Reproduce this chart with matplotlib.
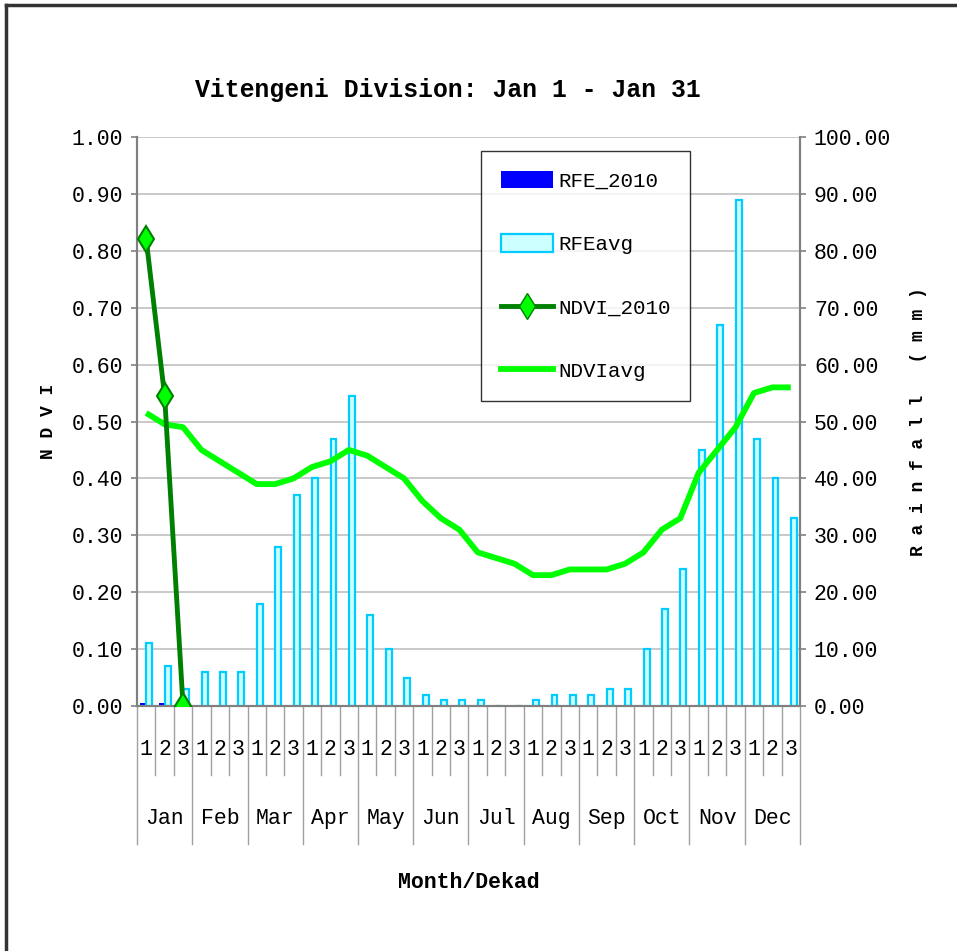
import matplotlib
matplotlib.use("Agg")
import matplotlib.pyplot as plt
from matplotlib.patches import Patch
from matplotlib.lines import Line2D
import numpy as np

plt.rcParams["font.family"] = ["Liberation Mono", "DejaVu Sans Mono"]

months = ["Jan", "Feb", "Mar", "Apr", "May", "Jun",
          "Jul", "Aug", "Sep", "Oct", "Nov", "Dec"]
dekads = ["1", "2", "3"]

# rainfall (mm), one value per dekad
rfe_2010 = [0.5, 0.5, 0.0]
rfe_avg = [11, 7, 3, 6, 6, 6, 18, 28, 37, 40, 47, 54.5,
           16, 10, 5, 2, 1, 1, 1, 0, 0, 1, 2, 2,
           2, 3, 3, 10, 17, 24, 45, 67, 89, 47, 40, 33]

# NDVI
ndvi_2010 = [0.82, 0.545, 0.0]
ndvi_avg = [0.515, 0.495, 0.49, 0.45, 0.43, 0.41, 0.39, 0.39, 0.40, 0.42, 0.43, 0.45,
            0.44, 0.42, 0.40, 0.36, 0.33, 0.31, 0.27, 0.26, 0.25, 0.23, 0.23, 0.24,
            0.24, 0.24, 0.25, 0.27, 0.31, 0.33, 0.41, 0.45, 0.49, 0.55, 0.56, 0.56]

n = len(rfe_avg)
x = np.arange(n) + 0.5

fig = plt.figure(figsize=(9.57, 9.51), dpi=100)
ax = fig.add_axes([137 / 957, 1 - 706 / 951, 663 / 957, 569 / 951])
axr = ax.twinx()
ax.set_zorder(axr.get_zorder() + 1)
ax.patch.set_visible(False)

# bars on the rainfall axis
w = 0.32
axr.bar(x[:len(rfe_2010)] - 0.17, rfe_2010, width=w, color="#0000ff", edgecolor="none", zorder=3)
axr.bar(x + 0.17, rfe_avg, width=w, color="#ccffff", edgecolor="#00ccff", linewidth=1.6, zorder=3)
axr.set_ylim(0, 100)
axr.set_yticks(np.arange(0, 101, 10))
axr.set_yticklabels(["%.2f" % v for v in np.arange(0, 101, 10)])
axr.grid(axis="y", color="#c0c0c0", linewidth=1.2, zorder=0)
axr.set_axisbelow(True)

# lines on the NDVI axis
ax.plot(x, ndvi_avg, color="#00ff00", linewidth=4.2, solid_capstyle="butt", zorder=4)
ax.plot(x[:len(ndvi_2010)], ndvi_2010, color="#008000", linewidth=3.5, marker="d",
        markersize=13, markerfacecolor="#00ff00", markeredgecolor="#008000",
        markeredgewidth=1.5, zorder=5)
ax.set_ylim(0, 1)
ax.set_xlim(0, n)
ax.set_yticks(np.arange(0, 1.01, 0.1))
ax.set_yticklabels(["%.2f" % v for v in np.arange(0, 1.01, 0.1)])
ax.set_xticks([])
axr.set_xticks([])

for a in (ax, axr):
    for s in a.spines.values():
        s.set_color("#808080")
        s.set_linewidth(1.5)
    a.spines["top"].set_visible(False)
    a.tick_params(axis="y", length=4, width=1.2, color="#808080", labelsize=15.5, pad=6)

# category axis: dekads and months
trans = ax.get_xaxis_transform()
for i in range(n + 1):
    bottom = -0.2425 if i % 3 == 0 else -0.121
    ax.plot([i, i], [0, bottom], color="#a0a0a0", linewidth=1, transform=trans, clip_on=False)
for i in range(n):
    ax.text(i + 0.5, -0.077, dekads[i % 3], transform=trans, ha="center", va="center", fontsize=15.5)
for m, name in enumerate(months):
    ax.text(3 * m + 1.5, -0.197, name, transform=trans, ha="center", va="center", fontsize=15.5)

ax.set_ylabel("N D V I", fontsize=13, fontweight="bold")
ax.yaxis.set_label_coords(-0.1207, 0.5)
axr.set_ylabel("R a i n f a l l   ( m m )", fontsize=13, fontweight="bold")
axr.yaxis.set_label_coords(1.166, 0.5)
ax.text(0.5, -0.311, "Month/Dekad", transform=ax.transAxes, ha="center", va="center",
        fontsize=15.5, fontweight="bold")

fig.text(448 / 957, 1 - 90 / 951, "Vitengeni Division: Jan 1 - Jan 31", ha="center", va="center",
         fontsize=17.8, fontweight="bold")

handles = [
    Patch(facecolor="#0000ff", edgecolor="none"),
    Patch(facecolor="#ccffff", edgecolor="#00ccff", linewidth=1.6),
    Line2D([], [], color="#008000", linewidth=3.5, marker="d", markersize=13,
           markerfacecolor="#00ff00", markeredgecolor="#008000"),
    Line2D([], [], color="#00ff00", linewidth=4.2),
]
labels = ["RFE_2010", "RFEavg", "NDVI_2010", "NDVIavg"]
leg = ax.legend(handles, labels, loc="upper left", bbox_to_anchor=(481 / 957, 1 - 151 / 951),
                bbox_transform=fig.transFigure, fontsize=15, frameon=True, fancybox=False,
                borderpad=0.95, labelspacing=2.1, handlelength=2.5, handleheight=0.9,
                handletextpad=0.25, numpoints=1, borderaxespad=0)
leg.get_frame().set_edgecolor("black")
leg.get_frame().set_linewidth(1.0)

# outer frame (cut at right and bottom)
fig.add_artist(Line2D([6 / 957, 6 / 957], [0, 1 - 5 / 951], color="#333333", linewidth=2.5,
                      transform=fig.transFigure))
fig.add_artist(Line2D([6 / 957, 1], [1 - 5 / 951, 1 - 5 / 951], color="#333333", linewidth=2.5,
                      transform=fig.transFigure))

fig.savefig("out.png", dpi=100)
